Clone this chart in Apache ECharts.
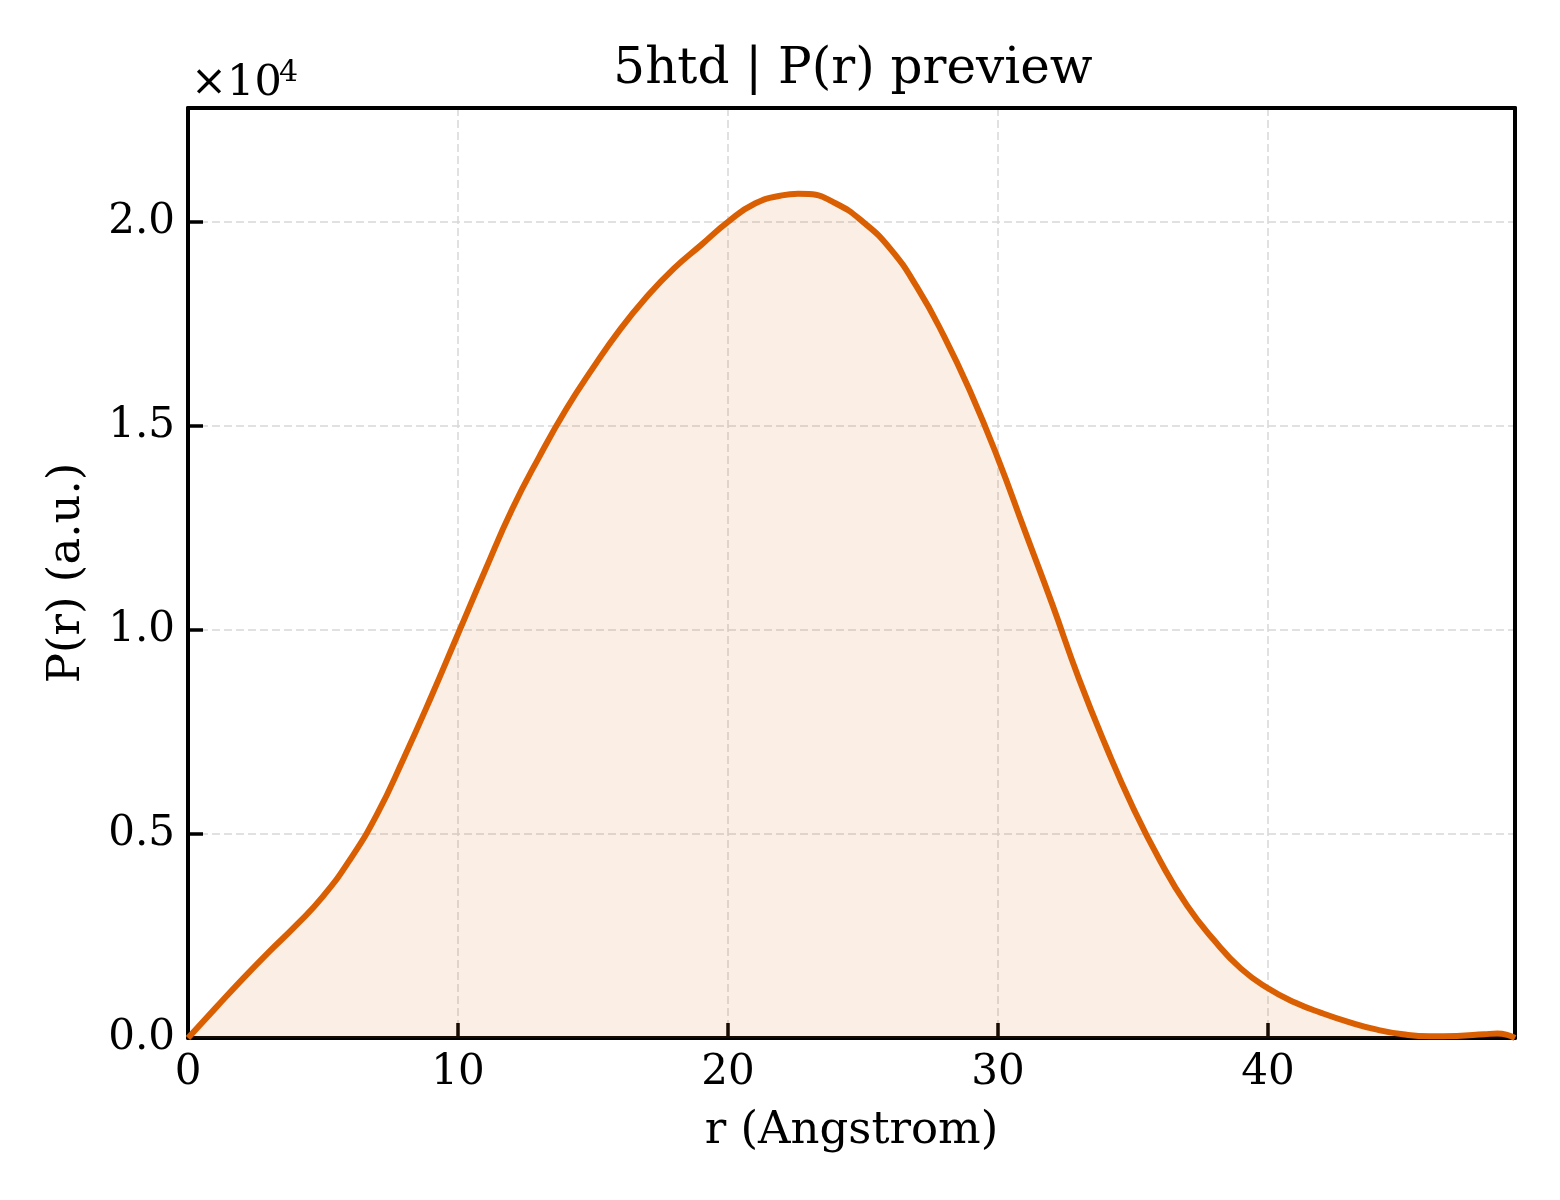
<!DOCTYPE html>
<html>
<head>
<meta charset="utf-8">
<script src="https://cdn.jsdelivr.net/npm/echarts@6/dist/echarts.min.js"></script>
<style>
html,body{margin:0;padding:0;background:#fff;}
#chart{width:1560px;height:1200px;}
</style>
</head>
<body>
<div id="chart"></div>
<script>
// r values (Angstrom)
const rValues = [0,1,2,3,4,5,6,7,8,9,10,11,12,13,14,15,16,17,18,19,20,21,22,22.6,23,24,25,26,27,28,29,30,31,32,33,34,35,36,37,38,39,40,41,42,43,44,45,46,47,48,48.5,49.15];
// P(r) values (a.u.)
const pValues = [0,720,1430,2110,2760,3470,4370,5480,6870,8350,9900,11450,12950,14230,15400,16420,17360,18170,18860,19430,20000,20450,20650,20690,20680,20450,20000,19350,18400,17200,15800,14200,12420,10650,8800,7150,5650,4350,3250,2400,1700,1220,870,610,390,210,90,40,50,90,110,0];
const xTicks = [0,10,20,30,40];
const yTicks = [0,5000,10000,15000,20000];

const FONT = '"DejaVu Serif", "Liberation Serif", serif';
const chart = echarts.init(document.getElementById('chart'), null, {renderer:'canvas'});
const data = rValues.map((r,i)=>[r,pValues[i]]);

const spineOnly = {
  axisLine:{show:true,onZero:false,lineStyle:{color:'#000',width:4}},
  axisTick:{show:false},axisLabel:{show:false},splitLine:{show:false}
};

chart.setOption({
  backgroundColor:'#ffffff',
  animation:false,
  title:{
    text:'5htd | P(r) preview',
    left:848, top:40, textAlign:'center',
    textStyle:{fontFamily:FONT,fontSize:50,fontWeight:'normal',color:'#000'}
  },
  grid:{left:188,top:108,right:45,bottom:162},
  xAxis:[{
    type:'value',min:0,max:49.15,interval:10,
    name:'r (Angstrom)',nameLocation:'middle',nameGap:71,
    nameTextStyle:{fontFamily:FONT,fontSize:45,color:'#000'},
    axisLine:{show:true,onZero:false,lineStyle:{color:'#000',width:4}},
    axisTick:{show:true,inside:true,length:15,lineStyle:{color:'#000',width:3.5}},
    axisLabel:{fontFamily:FONT,fontSize:42,color:'#000',margin:14,showMaxLabel:false,
      formatter:v=>xTicks.includes(v)?String(v):''},
    splitLine:{show:true,lineStyle:{color:'#d8d8d8',width:1.5,type:[8,4]}}
  },Object.assign({type:'value',position:'top',min:0,max:49.15,interval:10},spineOnly)],
  yAxis:[{
    type:'value',min:0,max:22790,interval:5000,
    name:'P(r) (a.u.)',nameLocation:'middle',nameGap:98,nameRotate:90,
    nameTextStyle:{fontFamily:FONT,fontSize:45,color:'#000'},
    axisLine:{show:true,onZero:false,lineStyle:{color:'#000',width:4}},
    axisTick:{show:true,inside:true,length:15,lineStyle:{color:'#000',width:3.5}},
    axisLabel:{fontFamily:FONT,fontSize:42,color:'#000',margin:13,showMaxLabel:false,
      formatter:v=>yTicks.includes(v)?(v/10000).toFixed(1):''},
    splitLine:{show:true,lineStyle:{color:'#d8d8d8',width:1.5,type:[8,4]}}
  },Object.assign({type:'value',position:'right',min:0,max:22790,interval:5000},spineOnly)],
  graphic:[
    {type:'text',left:191,top:62,style:{text:'×10',fontFamily:FONT,fontSize:43,fill:'#000'}},
    {type:'text',left:279,top:58,style:{text:'4',fontFamily:FONT,fontSize:30,fill:'#000'}}
  ],
  series:[{
    type:'line',data:data,showSymbol:false,smooth:0.5,
    xAxisIndex:0,yAxisIndex:0,
    lineStyle:{color:'#d95f02',width:6},
    itemStyle:{color:'#d95f02'},
    areaStyle:{color:'rgba(217,95,2,0.15)'},
    z:3
  }]
});
</script>
</body>
</html>
